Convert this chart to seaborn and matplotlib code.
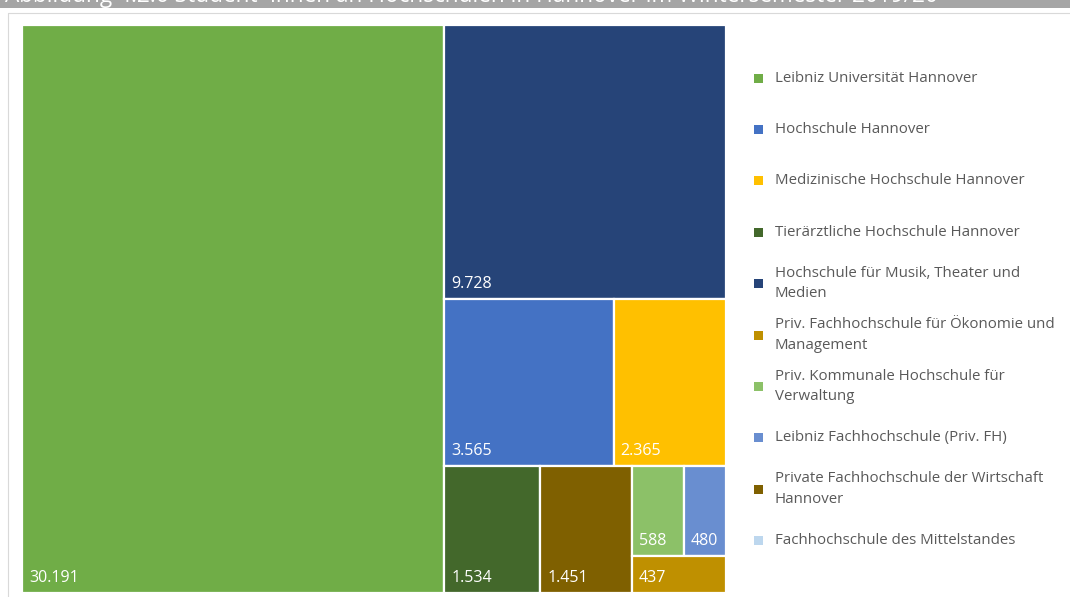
import matplotlib.pyplot as plt
import matplotlib.patches as mpatches
import seaborn as sns

# Studierende je Hochschule (Wintersemester 2019/20), Reihenfolge wie Legende
hochschulen = [
    "Leibniz Universität Hannover",
    "Hochschule Hannover",
    "Medizinische Hochschule Hannover",
    "Tierärztliche Hochschule Hannover",
    "Hochschule für Musik, Theater und\nMedien",
    "Priv. Fachhochschule für Ökonomie und\nManagement",
    "Priv. Kommunale Hochschule für\nVerwaltung",
    "Leibniz Fachhochschule (Priv. FH)",
    "Private Fachhochschule der Wirtschaft\nHannover",
    "Fachhochschule des Mittelstandes",
]
studierende = [30191, 3565, 2365, 1534, 9728, 437, 588, 480, 1451, 0]
farben = ["#70AD47", "#4472C4", "#FFC000", "#43682B", "#264478",
          "#BF9000", "#8CC168", "#698ED0", "#7F6000", "#BDD7EE"]
titel = "Abbildung 4.2.6 Student*innen an Hochschulen in Hannover im Wintersemester 2019/20"

sns.set_style("white")
plt.rcParams['font.family'] = ['Open Sans', 'DejaVu Sans']
palette = sns.color_palette(farben)


def worst(row, side):
    s = sum(row)
    thick = s / side
    return max(max((r / thick) / thick, thick / (r / thick)) for r in row)


def squarify(vals, x, y, w, h):
    # vals already scaled to the area w*h, sorted descending
    rects = []
    vals = list(vals)
    while vals:
        side = min(w, h)
        row = [vals[0]]
        i = 1
        while i < len(vals):
            # small tolerance, Excel keeps slightly worse rows
            if worst(row + [vals[i]], side) <= worst(row, side) * 1.15:
                row.append(vals[i])
                i += 1
            else:
                break
        vals = vals[i:]
        s = sum(row)
        thick = s / side
        pos = 0
        for r in row:
            length = r / thick
            if w >= h:
                rects.append((x, y + pos, thick, length))
            else:
                rects.append((x + pos, y, length, thick))
            pos += length
        if w >= h:
            x += thick
            w -= thick
        else:
            y += thick
            h -= thick
    return rects


W, H = 704, 568
idx = sorted([i for i, v in enumerate(studierende) if v > 0],
             key=lambda i: -studierende[i])
total = sum(studierende[i] for i in idx)
scaled = [studierende[i] * W * H / total for i in idx]
rects = squarify(scaled, 0, 0, W, H)

fig = plt.figure(figsize=(10.7, 5.97), dpi=100)

# hintergrund: titelleiste, rahmen, legende in pixelkoordinaten
bg = fig.add_axes([0, 0, 1, 1])
bg.set_xlim(0, 1070)
bg.set_ylim(597, 0)
bg.axis('off')
band = mpatches.Rectangle((0, -5), 1070, 13, facecolor="#A5A5A5", edgecolor="none")
bg.add_patch(band)
t = bg.text(5, 2.5, titel, color="white", fontsize=16.3, va='baseline')
t.set_clip_path(band)
bg.add_patch(mpatches.Rectangle((7.5, 12.5), 1070, 600, facecolor="none",
                                edgecolor="#D9D9D9", linewidth=0.8))

for k, name in enumerate(hochschulen):
    yc = 78 + k * 51.4
    bg.add_patch(mpatches.Rectangle((753.5, yc - 4.5), 9, 9, facecolor=palette[k],
                                    edgecolor="none"))
    bg.text(775, yc, name, color="#595959", fontsize=10.8, va='center',
            ha='left', linespacing=1.5)

# treemap
ax = fig.add_axes([22 / 1070, 4 / 597, W / 1070, H / 597])
ax.set_xlim(0, W)
ax.set_ylim(H, 0)
ax.axis('off')
for i, (x, y, w, h) in zip(idx, rects):
    ax.add_patch(mpatches.Rectangle((x, y), w, h, facecolor=palette[i],
                                    edgecolor="white", linewidth=1.6))
    ax.annotate(f"{studierende[i]:,}".replace(",", "."), (x, y + h),
                xytext=(7, 11), textcoords='offset pixels',
                color="white", fontsize=11.5, ha='left', va='baseline')

plt.savefig("out.png", dpi=100)
plt.close()
